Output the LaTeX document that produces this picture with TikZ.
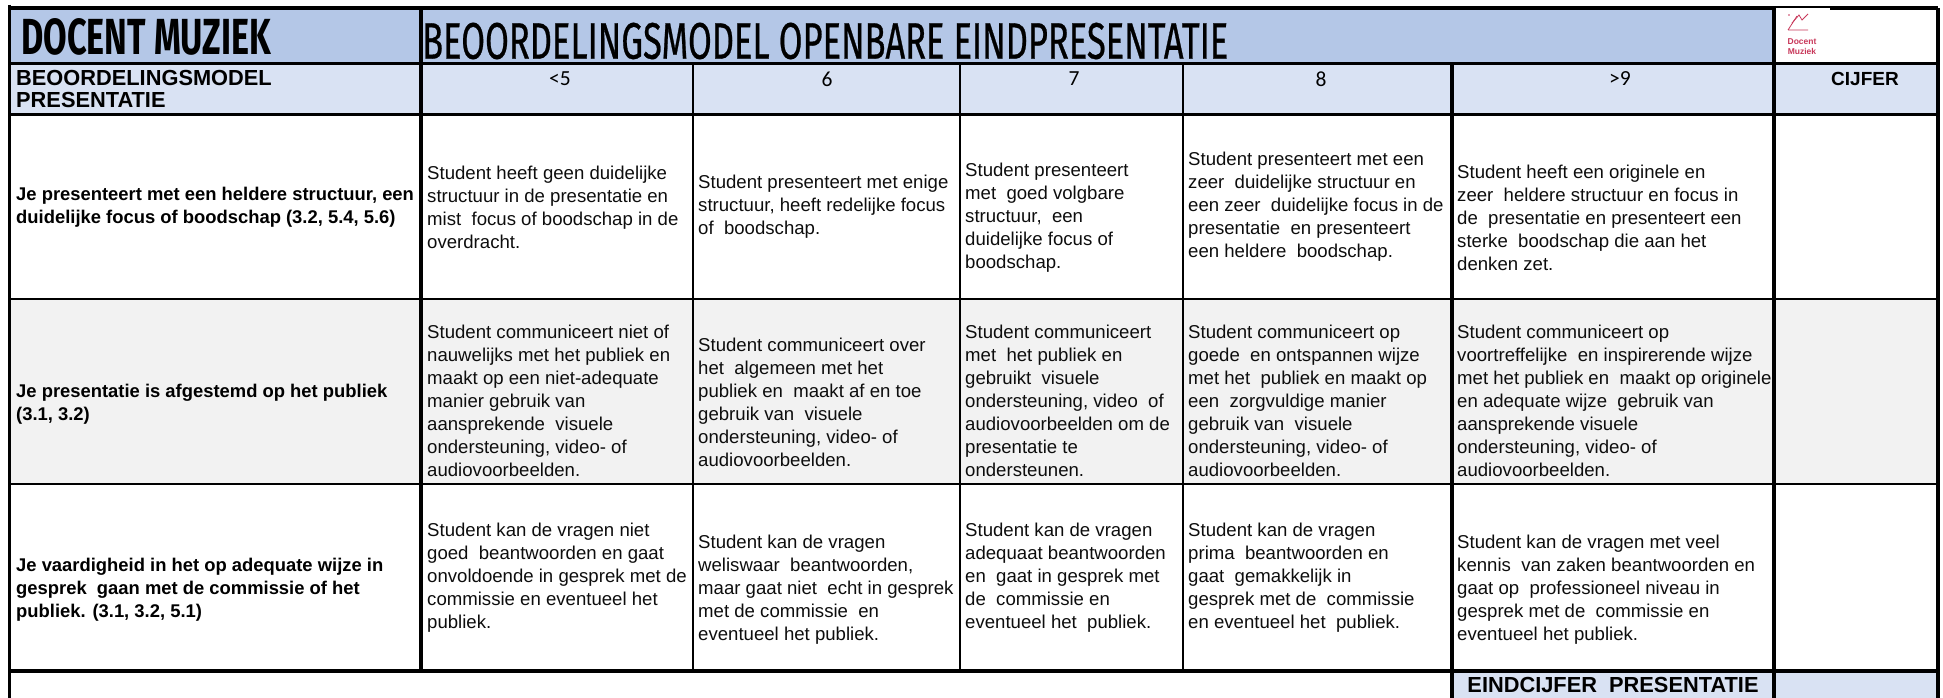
\documentclass[tikz,border=0pt]{standalone}
\usepackage{fontspec}
\setmainfont{Liberation Sans}
\newfontfamily\numfont{Carlito}
\newfontfamily\titlefont{Fira Sans}
\newfontfamily\titlemed[FakeBold=0.7]{Fira Sans}
\definecolor{headblue}{HTML}{B4C7E7}
\definecolor{subblue}{HTML}{D9E2F3}
\definecolor{rowgrey}{HTML}{F2F2F2}
\definecolor{logored}{HTML}{C8385A}
\tikzset{
  x=1pt,y=-1pt,
  gridline/.style={line width=3.6pt,black},
  thingrid/.style={line width=2.2pt,black},
  cellbody/.style={anchor=west,align=left,inner sep=0pt,font=\fontsize{18.6}{23}\selectfont,text=black!95},
  rowlabel/.style={anchor=west,align=left,inner sep=0pt,font=\fontsize{18.4}{23}\selectfont\bfseries,text=black},
  scorelabel/.style={anchor=center,inner sep=0pt,font=\fontsize{21.5}{22}\selectfont\numfont},
  headbold/.style={inner sep=0pt,font=\fontsize{19}{22}\selectfont\bfseries},
}
\newcommand{\dsp}{\ \ }
\begin{document}
\begin{tikzpicture}
\useasboundingbox (0,0) rectangle (1943,698);
% fills
\fill[headblue] (11,9) rectangle (1774,63);
\fill[subblue] (11,63) rectangle (1938,114);
\fill[rowgrey] (11,299) rectangle (1938,484);
\fill[subblue] (1452,671) rectangle (1938,698);
% title texts
\node[anchor=west,inner sep=0pt] (titleleft) at (21,37) {\resizebox{250pt}{36pt}{\titlefont\bfseries DOCENT MUZIEK}};
\node[anchor=west,inner sep=0pt] (titlemain) at (422,41) {\resizebox{806pt}{36pt}{\titlemed BEOORDELINGSMODEL OPENBARE EINDPRESENTATIE}};
% header row
\node[headbold,anchor=west,align=left,font=\fontsize{21.8}{22}\selectfont\bfseries] (hmodel) at (16,89) {BEOORDELINGSMODEL\\PRESENTATIE};
\node[scorelabel] (h5) at (560,79) {<5};
\node[scorelabel] (h6) at (827,79) {6};
\node[scorelabel] (h7) at (1074,79) {7};
\node[scorelabel] (h8) at (1321,79) {8};
\node[scorelabel] (h9) at (1620,79) {>9};
\node[headbold,anchor=center] (hcijfer) at (1865,79) {CIJFER};
% row 1
\node[rowlabel] (r1l) at (16,207) {Je presenteert met een heldere structuur, een\\duidelijke focus of boodschap (3.2, 5.4, 5.6)};
\node[cellbody] (r1a) at (427,207) {Student heeft geen duidelijke\\structuur in de presentatie en\\mist\dsp focus of boodschap in de\\overdracht.};
\node[cellbody] (r1b) at (698,207) {Student presenteert met enige\\structuur, heeft redelijke focus\\of\dsp boodschap.};
\node[cellbody] (r1c) at (965,218) {Student presenteert\\met\dsp goed volgbare\\structuur,\dsp een\\duidelijke focus of\\boodschap.};
\node[cellbody] (r1d) at (1188,207) {Student presenteert met een\\zeer\dsp duidelijke structuur en\\een zeer\dsp duidelijke focus in de\\presentatie\dsp en presenteert\\een heldere\dsp boodschap.};
\node[cellbody] (r1e) at (1457,218) {Student heeft een originele en\\zeer\dsp heldere structuur en focus in\\de\dsp presentatie en presenteert een\\sterke\dsp boodschap die aan het\\denken zet.};
% row 2
\node[rowlabel] (r2l) at (16,404) {Je presentatie is afgestemd op het publiek\\(3.1, 3.2)};
\node[cellbody] (r2a) at (427,401) {Student communiceert niet of\\nauwelijks met het publiek en\\maakt op een niet-adequate\\manier gebruik van\\aansprekende\dsp visuele\\ondersteuning, video- of\\audiovoorbeelden.};
\node[cellbody] (r2b) at (698,402) {Student communiceert over\\het\dsp algemeen met het\\publiek en\dsp maakt af en toe\\gebruik van\dsp visuele\\ondersteuning, video- of\\audiovoorbeelden.};
\node[cellbody] (r2c) at (965,401) {Student communiceert\\met\dsp het publiek en\\gebruikt\dsp visuele\\ondersteuning, video\dsp of\\audiovoorbeelden om de\\presentatie te\\ondersteunen.};
\node[cellbody] (r2d) at (1188,401) {Student communiceert op\\goede\dsp en ontspannen wijze\\met het\dsp publiek en maakt op\\een\dsp zorgvuldige manier\\gebruik van\dsp visuele\\ondersteuning, video- of\\audiovoorbeelden.};
\node[cellbody] (r2e) at (1457,401) {Student communiceert op\\voortreffelijke\dsp en inspirerende wijze\\met het publiek en\dsp maakt op originele\\en adequate wijze\dsp gebruik van\\aansprekende visuele\\ondersteuning, video- of\\audiovoorbeelden.};
% row 3
\node[rowlabel] (r3l) at (16,590) {Je vaardigheid in het op adequate wijze in\\gesprek\dsp gaan met de commissie of het\\publiek. (3.1, 3.2, 5.1)};
\node[cellbody] (r3a) at (427,578) {Student kan de vragen niet\\goed\dsp beantwoorden en gaat\\onvoldoende in gesprek met de\\commissie en eventueel het\\publiek.};
\node[cellbody] (r3b) at (698,590) {Student kan de vragen\\weliswaar\dsp beantwoorden,\\maar gaat niet\dsp echt in gesprek\\met de commissie\dsp en\\eventueel het publiek.};
\node[cellbody] (r3c) at (965,578) {Student kan de vragen\\adequaat beantwoorden\\en\dsp gaat in gesprek met\\de\dsp commissie en\\eventueel het\dsp publiek.};
\node[cellbody] (r3d) at (1188,578) {Student kan de vragen\\prima\dsp beantwoorden en\\gaat\dsp gemakkelijk in\\gesprek met de\dsp commissie\\en eventueel het\dsp publiek.};
\node[cellbody] (r3e) at (1457,590) {Student kan de vragen met veel\\kennis\dsp van zaken beantwoorden en\\gaat op\dsp professioneel niveau in\\gesprek met de\dsp commissie en\\eventueel het publiek.};
% footer
\node[headbold,anchor=center,font=\fontsize{21.8}{22}\selectfont\bfseries] (footer) at (1613,685) {EINDCIJFER\dsp PRESENTATIE};
% grid
\draw[gridline] (9.5,5) -- (9.5,698);
\draw[gridline] (8,8) -- (1938,8);
\draw[gridline] (421,8) -- (421,671);
\draw[gridline] (1452,63) -- (1452,698);
\draw[gridline] (1774,8) -- (1774,698);
\draw[gridline] (1938,8) -- (1938,698);
\draw[thingrid] (693,63) -- (693,671);
\draw[thingrid] (960,63) -- (960,671);
\draw[thingrid] (1183,63) -- (1183,671);
\draw[gridline] (8,63.5) -- (1938,63.5);
\draw[gridline] (8,114.5) -- (1938,114.5);
\draw[thingrid] (8,299) -- (1938,299);
\draw[thingrid] (8,484) -- (1938,484);
\draw[gridline] (8,671) -- (1938,671);
% logo
\fill[white] (1776,8) rectangle (1830,62.5);
\begin{scope}[logored,line width=0.8pt]
\draw (1788,30) -- (1797,16) (1788,30) -- (1808,30);
\draw (1792,23) -- (1799,15) -- (1802,20) -- (1808,14);
\fill (1789,15) circle (0.8);
\end{scope}
\node[anchor=center,inner sep=0pt,align=center,text=logored,font=\fontsize{8.5}{9.5}\selectfont\bfseries] (logotext) at (1802,46.5) {Docent\\Muziek};
\end{tikzpicture}
\end{document}
